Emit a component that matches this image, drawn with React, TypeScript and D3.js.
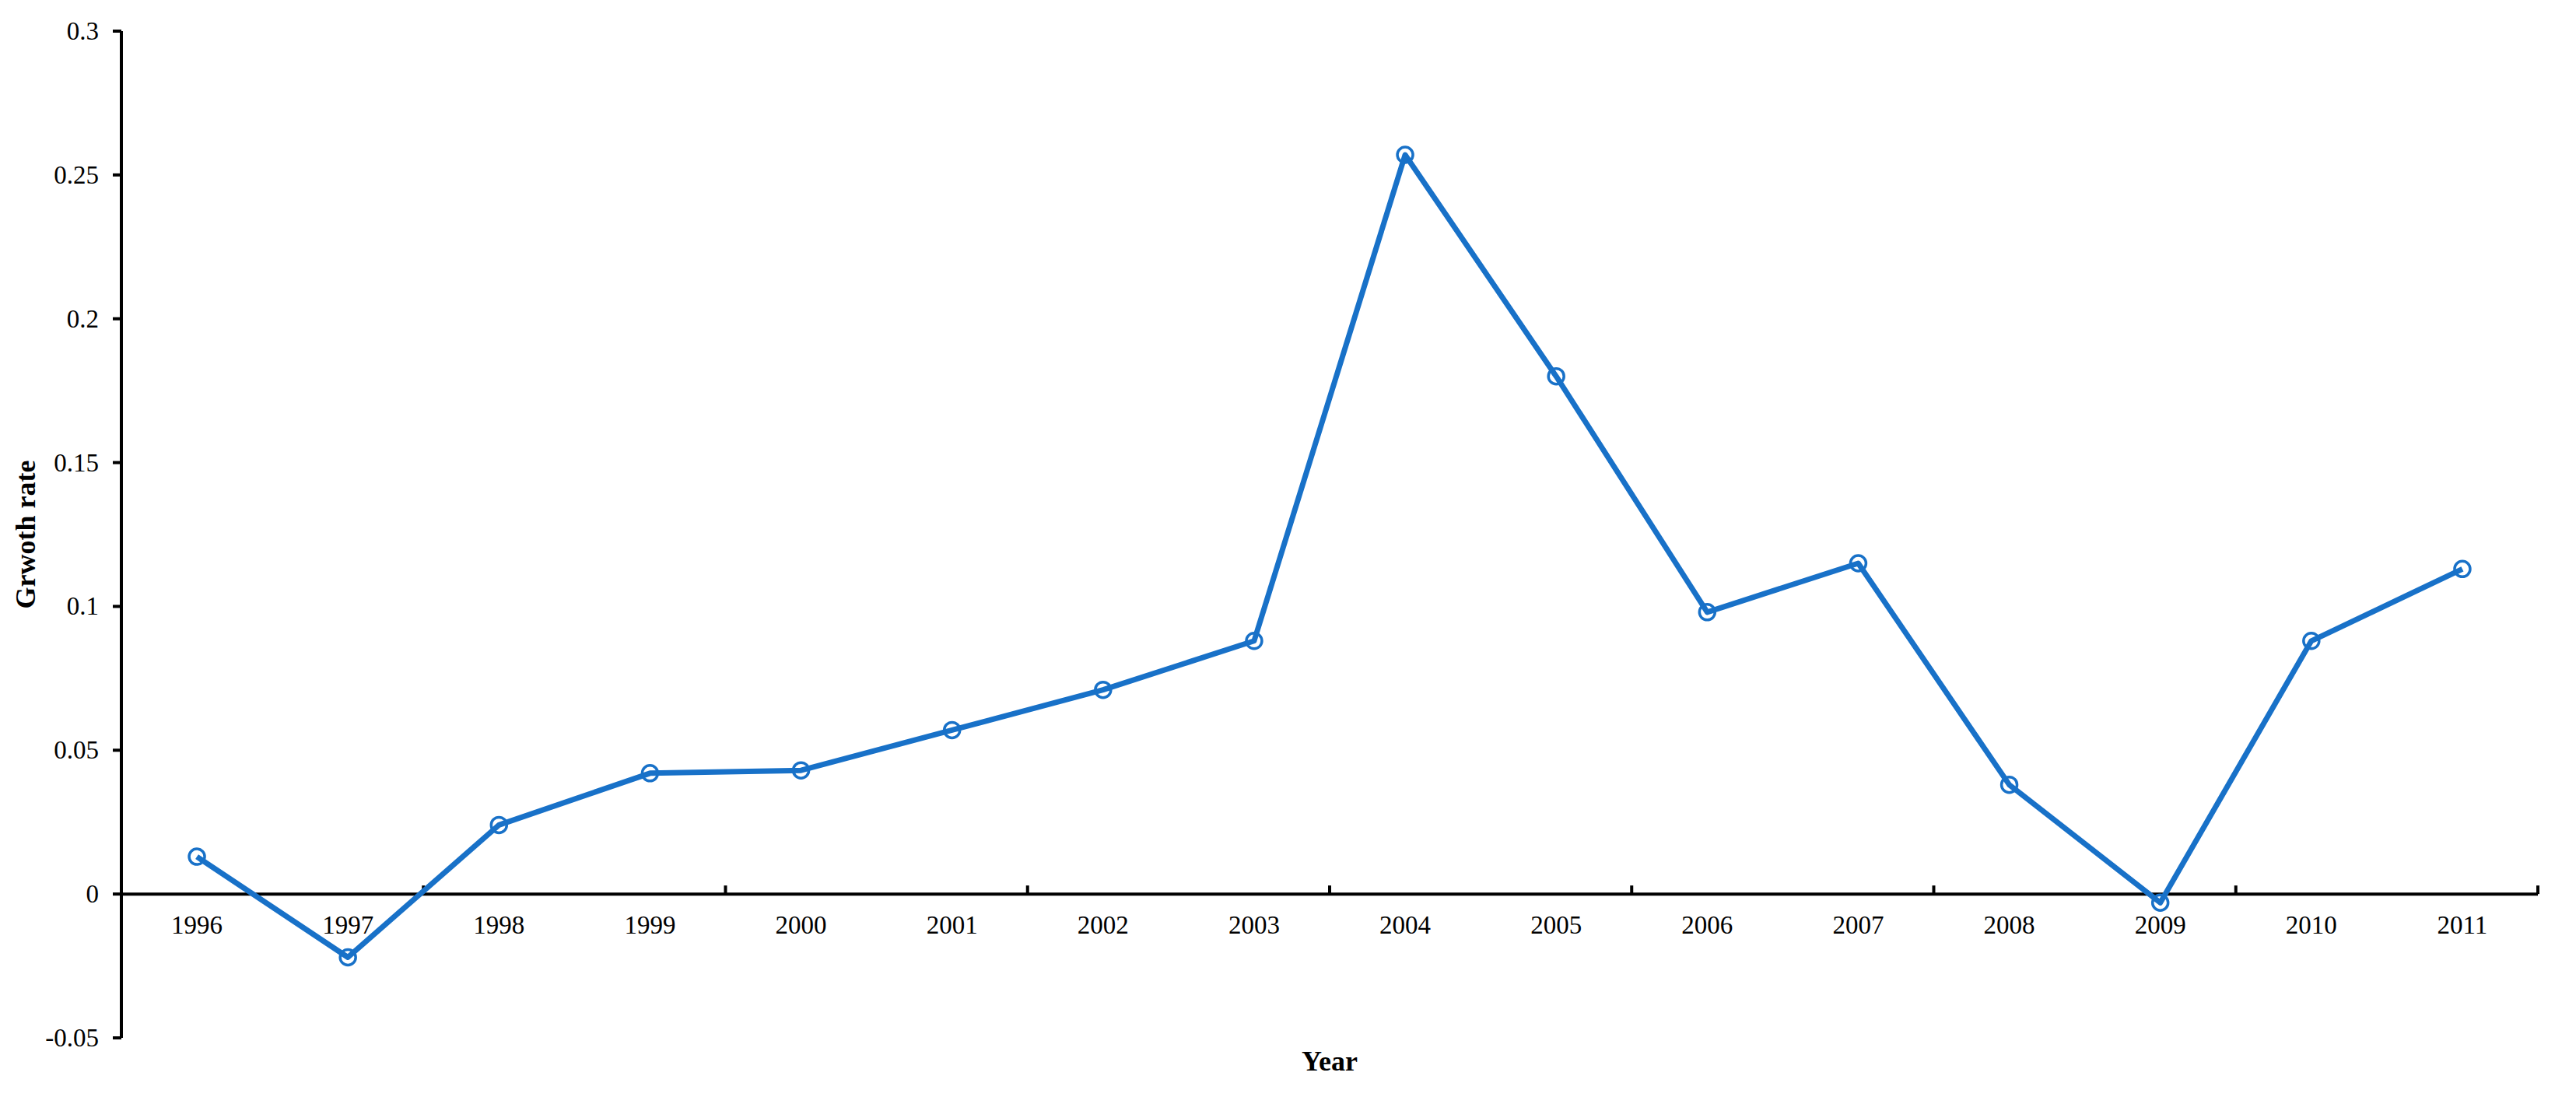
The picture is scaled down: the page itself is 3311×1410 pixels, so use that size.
import { scaleBand, scaleLinear, line } from "d3";

const width = 3311;
const height = 1410;

const years = [
  "1996", "1997", "1998", "1999", "2000", "2001", "2002", "2003",
  "2004", "2005", "2006", "2007", "2008", "2009", "2010", "2011",
];
const growth = [
  0.013, -0.022, 0.024, 0.042, 0.043, 0.057, 0.071, 0.088,
  0.257, 0.18, 0.098, 0.115, 0.038, -0.003, 0.088, 0.113,
];
const yTicks = [-0.05, 0, 0.05, 0.1, 0.15, 0.2, 0.25, 0.3];

const left = 156;
const right = 3262;
const top = 40;
const bottom = 1334;
const font = "'Liberation Serif', 'Times New Roman', serif";
const blue = "#1871c8";

const App = () => {
  const x = scaleBand().domain(years).range([left, right]).padding(0);
  const y = scaleLinear().domain([-0.05, 0.3]).range([bottom, top]);
  const cx = (d: string) => (x(d) as number) + x.bandwidth() / 2;
  const y0 = y(0);

  const path = line<number>()
    .x((_, i) => cx(years[i]))
    .y((d) => y(d))(growth);

  // tick marks every second category boundary (Excel style)
  const xTickIdx = years.map((_, i) => i).filter((i) => i % 2 === 0).concat([years.length]);

  return (
    <svg
      width={width}
      height={height}
      style={{ position: "absolute", left: 0, top: 0, background: "#fff" }}
      fontFamily={font}
    >
      {/* y axis */}
      <line x1={left} x2={left} y1={top} y2={bottom} stroke="#000" strokeWidth={4} />
      {yTicks.map((t) => (
        <g key={t}>
          <line x1={left - 11} x2={left} y1={y(t)} y2={y(t)} stroke="#000" strokeWidth={4} />
          <text
            x={127}
            y={y(t)}
            textAnchor="end"
            dominantBaseline="central"
            fontSize={33}
          >
            {t}
          </text>
        </g>
      ))}

      {/* x axis at zero */}
      <line x1={left} x2={right} y1={y0} y2={y0} stroke="#000" strokeWidth={4} />
      {xTickIdx.map((i) => {
        const px = left + i * x.step();
        return <line key={i} x1={px} x2={px} y1={y0} y2={y0 - 11} stroke="#000" strokeWidth={4} />;
      })}
      {years.map((d) => (
        <text key={d} x={cx(d)} y={1200} textAnchor="middle" fontSize={33}>
          {d}
        </text>
      ))}

      {/* series */}
      <path d={path ?? ""} fill="none" stroke={blue} strokeWidth={7} strokeLinejoin="round" />
      {growth.map((v, i) => (
        <circle key={i} cx={cx(years[i])} cy={y(v)} r={10} fill="none" stroke={blue} strokeWidth={3.5} />
      ))}

      {/* axis titles */}
      <text
        transform={`translate(33, ${(top + bottom) / 2}) rotate(-90)`}
        textAnchor="middle"
        dominantBaseline="central"
        fontSize={36}
        fontWeight="bold"
      >
        Grwoth rate
      </text>
      <text x={(left + right) / 2} y={1376} textAnchor="middle" fontSize={36} fontWeight="bold">
        Year
      </text>
    </svg>
  );
};

export default App;
